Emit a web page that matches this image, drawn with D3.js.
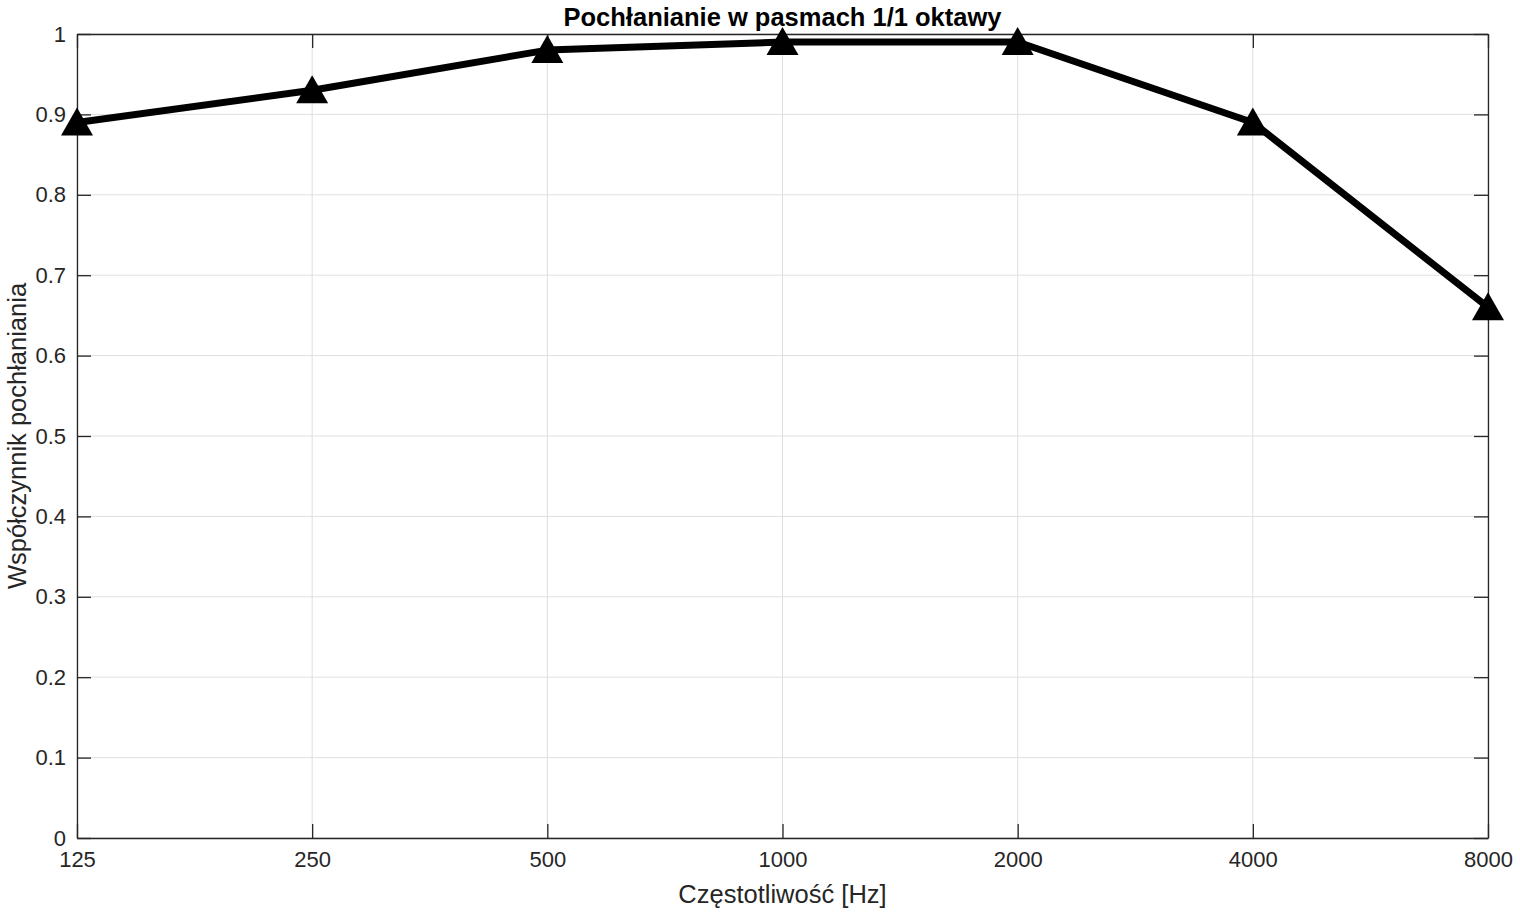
<!DOCTYPE html>
<html>
<head>
<meta charset="utf-8">
<script src="https://cdn.jsdelivr.net/npm/d3@7"></script>
<style>
  body { margin: 0; background: #fff; }
  text { font-family: "Liberation Sans", Arial, sans-serif; fill: #262626; }
</style>
</head>
<body>
<svg width="1520" height="912"></svg>
<script>
let frequencies = [125, 250, 500, 1000, 2000, 4000, 8000];
let absorption = [0.89, 0.93, 0.98, 0.99, 0.99, 0.89, 0.66];
let yTicks = [0, 0.1, 0.2, 0.3, 0.4, 0.5, 0.6, 0.7, 0.8, 0.9, 1];

let svg = d3.select("svg");
let margin = { left: 77, right: 32, top: 34, bottom: 74 };
let width = +svg.attr("width");
let height = +svg.attr("height");
let innerW = width - margin.left - margin.right;
let innerH = height - margin.top - margin.bottom;

let x = d3.scaleLog().base(2).domain([125, 8000]).range([0, innerW]);
let y = d3.scaleLinear().domain([0, 1]).range([innerH, 0]);

let g = svg.append("g").attr("transform", `translate(${margin.left},${margin.top})`);

// grid
g.append("g")
  .selectAll("line.gx")
  .data(frequencies)
  .enter()
  .append("line")
  .attr("x1", (d) => x(d)).attr("x2", (d) => x(d))
  .attr("y1", 0).attr("y2", innerH)
  .style("stroke", "#dfdfdf");

g.append("g")
  .selectAll("line.gy")
  .data(yTicks)
  .enter()
  .append("line")
  .attr("y1", (d) => y(d)).attr("y2", (d) => y(d))
  .attr("x1", 0).attr("x2", innerW)
  .style("stroke", "#dfdfdf");

// axes, ticks inward
let tickLen = 14;
let xAxis = g.append("g")
  .attr("transform", `translate(0,${innerH})`)
  .call(d3.axisBottom(x).tickValues(frequencies).tickFormat(d3.format("d")).tickSizeInner(-tickLen).tickSizeOuter(0).tickPadding(13));
let xTop = g.append("g")
  .call(d3.axisTop(x).tickValues(frequencies).tickFormat("").tickSizeInner(-tickLen).tickSizeOuter(0));
let yAxis = g.append("g")
  .call(d3.axisLeft(y).tickValues(yTicks).tickFormat((d) => d3.format("~g")(d)).tickSizeInner(-tickLen).tickSizeOuter(0).tickPadding(11));
let yRight = g.append("g")
  .attr("transform", `translate(${innerW},0)`)
  .call(d3.axisRight(y).tickValues(yTicks).tickFormat("").tickSizeInner(-tickLen).tickSizeOuter(0));

[xAxis, xTop, yAxis, yRight].forEach((a) => {
  a.attr("font-size", null).attr("font-family", null);
  a.select(".domain").style("stroke", "#262626").style("stroke-width", 1.3);
  a.selectAll(".tick line").style("stroke", "#262626").style("stroke-width", 1.3);
  a.selectAll("text").style("font-size", "22px").style("fill", "#262626");
});
xAxis.selectAll("text").attr("dy", "0.71em");

// line
let data = frequencies.map((f, i) => ({ f: f, v: absorption[i] }));
g.append("path")
  .datum(data)
  .attr("fill", "none")
  .attr("stroke", "#000")
  .attr("stroke-width", 7)
  .attr("stroke-linejoin", "round")
  .attr("d", d3.line().x((d) => x(d.f)).y((d) => y(d.v)));

// triangle markers
g.append("g")
  .selectAll("path")
  .data(data)
  .enter()
  .append("path")
  .attr("transform", (d) => `translate(${x(d.f)},${y(d.v)})`)
  .attr("d", "M0,-15 L16,13 L-16,13 Z")
  .attr("fill", "#000");

// title and labels
svg.append("text")
  .attr("x", margin.left + innerW / 2)
  .attr("y", 26)
  .attr("text-anchor", "middle")
  .style("font-size", "25.5px")
  .style("font-weight", "bold")
  .style("fill", "#000")
  .text("Pochłanianie w pasmach 1/1 oktawy");

svg.append("text")
  .attr("x", margin.left + innerW / 2)
  .attr("y", 903)
  .attr("text-anchor", "middle")
  .style("font-size", "25.5px")
  .text("Częstotliwość [Hz]");

svg.append("text")
  .attr("transform", `translate(26,${margin.top + innerH / 2}) rotate(-90)`)
  .attr("text-anchor", "middle")
  .style("font-size", "25.5px")
  .text("Współczynnik pochłaniania");
</script>
</body>
</html>
